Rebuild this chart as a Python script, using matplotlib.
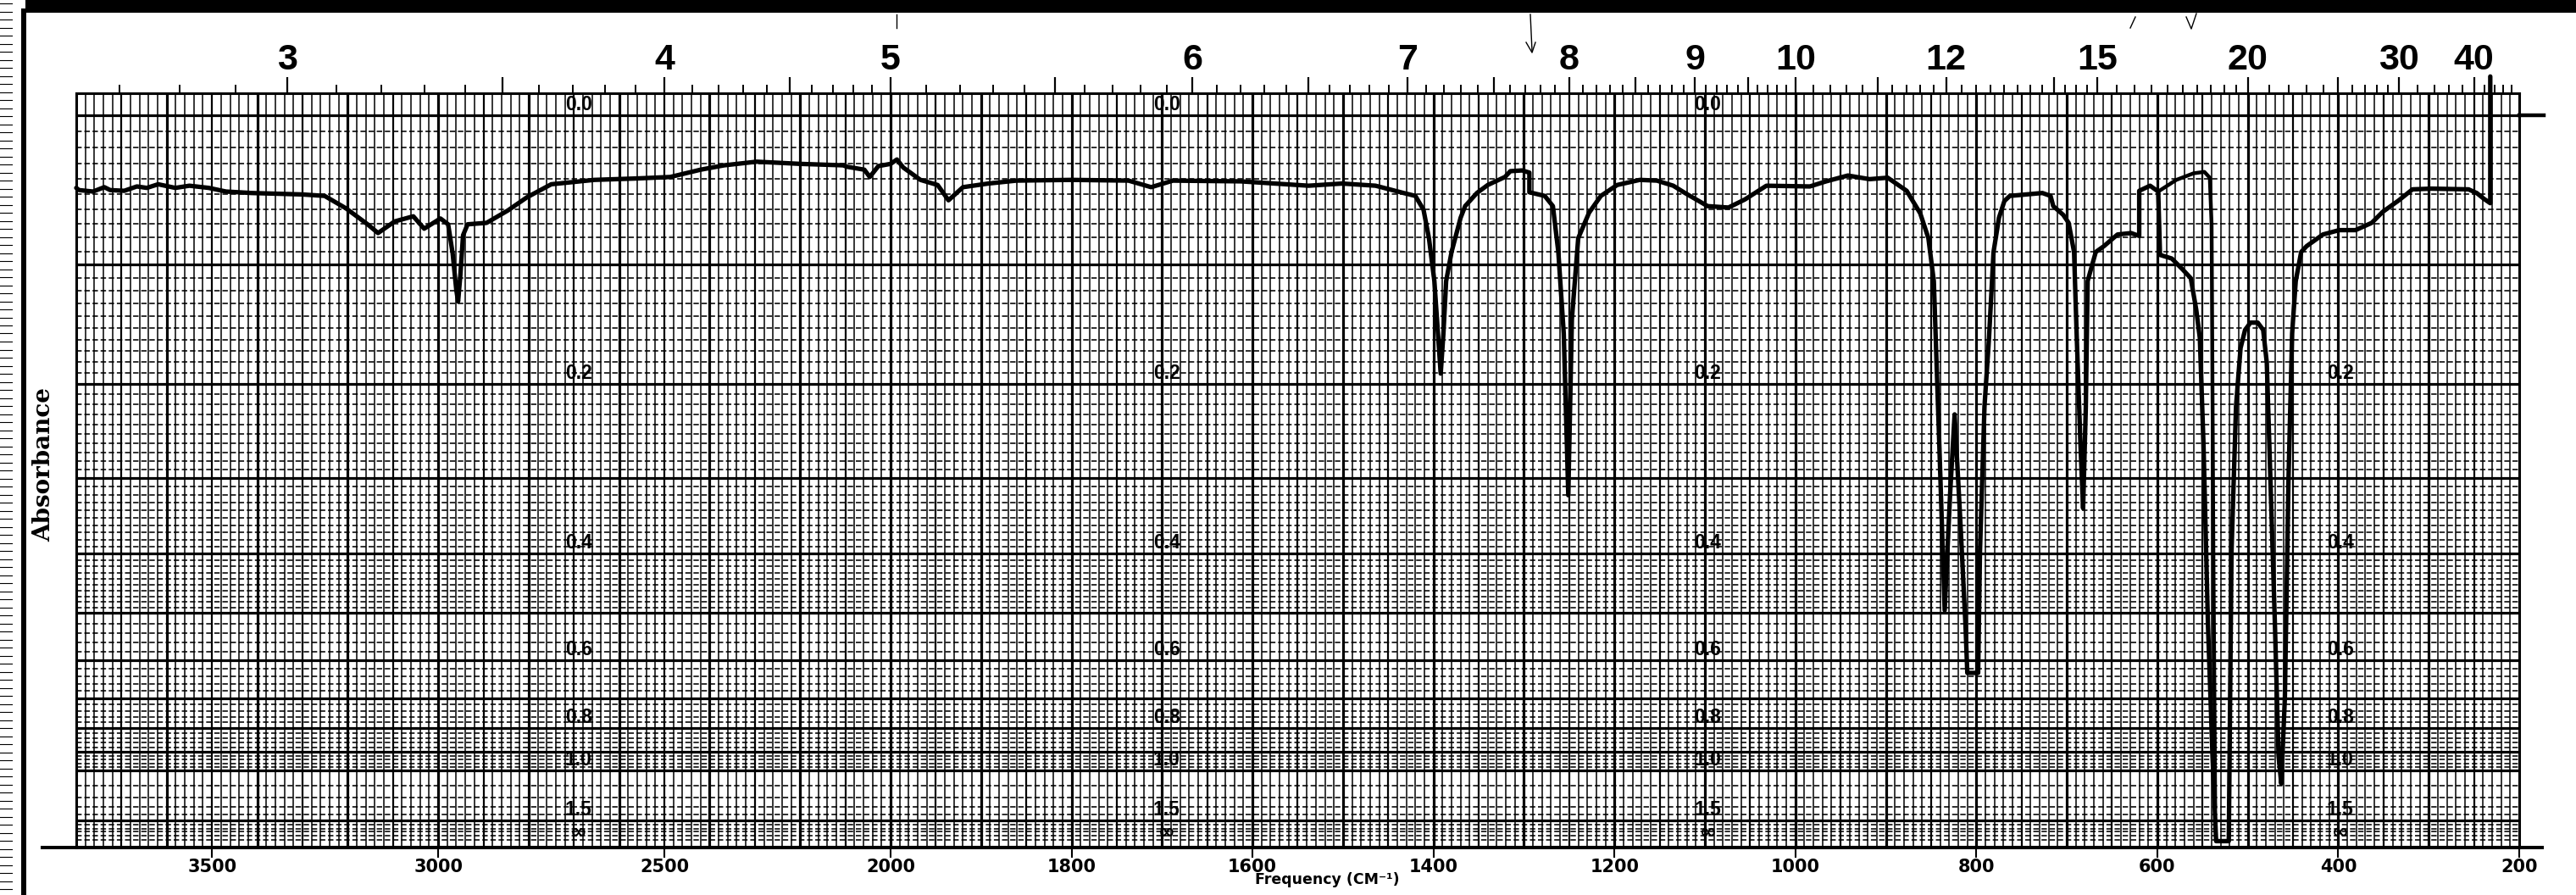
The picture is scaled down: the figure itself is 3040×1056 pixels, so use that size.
import numpy as np
import matplotlib
matplotlib.use("Agg")
import matplotlib.pyplot as plt
from matplotlib.lines import Line2D
from matplotlib.patches import Rectangle
from matplotlib.transforms import blended_transform_factory

# ---------------- data ----------------
wavenumber = [3800, 3794, 3763, 3738, 3725, 3694, 3666, 3644, 3619, 3581, 3550, 3507, 3469, 3413,
              3300, 3251, 3204, 3156, 3133, 3096, 3055, 3031, 2995, 2978, 2968, 2960, 2956, 2951,
              2945, 2935, 2893, 2846, 2804, 2750, 2655, 2560, 2487, 2420, 2368, 2296, 2200, 2105,
              2096, 2058, 2046, 2027, 2000, 1993, 1986, 1967, 1948, 1936, 1920, 1892, 1861, 1800,
              1737, 1712, 1688, 1613, 1538, 1501, 1464, 1433, 1420, 1411, 1405, 1399, 1395, 1392,
              1389, 1386, 1380, 1370, 1365, 1352, 1340, 1321, 1315, 1302, 1294, 1294, 1277, 1268,
              1262, 1256, 1251, 1247, 1240, 1228, 1215, 1197, 1172, 1153, 1135, 1122, 1097, 1074,
              1056, 1032, 984, 966, 942, 918, 898, 877, 862, 853, 847, 841, 835, 829, 824, 818,
              812, 810, 798, 796, 791, 786, 781, 775, 769, 763, 745, 727, 718, 715, 704, 698, 692,
              689, 685, 682, 679, 677, 668, 659, 644, 629, 620, 620, 608, 599, 597, 584, 572, 563,
              557, 553, 549, 544, 539, 535, 521, 518, 513, 508, 503, 497, 489, 483, 479, 475, 470,
              466, 463, 459, 455, 451, 447, 441, 435, 417, 399, 381, 363, 351, 333, 318, 297, 256,
              247, 239, 232, 232]
transmittance = [0.900, 0.897, 0.895, 0.901, 0.897, 0.896, 0.902, 0.900, 0.905, 0.900, 0.903, 0.900,
                 0.895, 0.893, 0.891, 0.889, 0.872, 0.850, 0.838, 0.854, 0.861, 0.844, 0.858, 0.850,
                 0.810, 0.760, 0.744, 0.780, 0.835, 0.850, 0.852, 0.869, 0.887, 0.905, 0.911, 0.913,
                 0.915, 0.925, 0.931, 0.936, 0.933, 0.931, 0.929, 0.925, 0.915, 0.930, 0.933, 0.939,
                 0.928, 0.911, 0.904, 0.883, 0.901, 0.906, 0.910, 0.911, 0.910, 0.901, 0.910, 0.909,
                 0.903, 0.906, 0.903, 0.893, 0.889, 0.870, 0.831, 0.772, 0.700, 0.645, 0.700, 0.772,
                 0.812, 0.859, 0.875, 0.893, 0.904, 0.915, 0.923, 0.924, 0.921, 0.894, 0.889, 0.875,
                 0.812, 0.700, 0.478, 0.720, 0.831, 0.866, 0.889, 0.904, 0.911, 0.910, 0.903, 0.893,
                 0.875, 0.873, 0.884, 0.903, 0.902, 0.909, 0.917, 0.912, 0.914, 0.896, 0.865, 0.831,
                 0.772, 0.550, 0.320, 0.480, 0.589, 0.450, 0.300, 0.234, 0.234, 0.400, 0.600, 0.694,
                 0.812, 0.859, 0.882, 0.889, 0.891, 0.893, 0.889, 0.875, 0.863, 0.852, 0.812, 0.694,
                 0.550, 0.460, 0.600, 0.772, 0.812, 0.820, 0.836, 0.838, 0.834, 0.896, 0.903, 0.895,
                 0.808, 0.803, 0.788, 0.776, 0.733, 0.694, 0.550, 0.300, 0.120, 0.003, 0.003, 0.400,
                 0.600, 0.680, 0.705, 0.715, 0.715, 0.705, 0.660, 0.500, 0.300, 0.120, 0.082, 0.200,
                 0.500, 0.700, 0.772, 0.812, 0.820, 0.836, 0.842, 0.842, 0.852, 0.867, 0.883, 0.898,
                 0.899, 0.898, 0.893, 0.885, 0.879, 1.053]

# second (overlapping) pen pass near 600-535 cm-1
retrace_wavenumber = [599, 579, 560, 548, 542, 540, 538, 536]
retrace_transmittance = [0.895, 0.911, 0.920, 0.922, 0.914, 0.850, 0.400, 0.050]

freq_ticks = [3500, 3000, 2500, 2000, 1800, 1600, 1400, 1200, 1000, 800, 600, 400, 200]
wavelength_labels = [3, 4, 5, 6, 7, 8, 9, 10, 12, 15, 20, 30, 40]
wavelength_half = [3.5, 4.5, 5.5, 6.5, 7.5, 8.5, 9.5, 11, 14, 25]
absorbance_text = ["0.0", "0.2", "0.4", "0.6", "0.8", "1.0", "1.5", "\u221e"]
absorbance_values = [0.0, 0.2, 0.4, 0.6, 0.8, 1.0, 1.5, np.inf]
label_columns = [2690, 1695, 1097, 398]

# ---------------- scale: chart paper halves its cm-1 scale above 2000 ----------------
def fwd(nu):
    nu = np.asarray(nu, dtype=float)
    return np.where(nu <= 2000, nu, 2000 + (nu - 2000) / 2.0)

def inv(g):
    g = np.asarray(g, dtype=float)
    return np.where(g <= 2000, g, 2000 + (g - 2000) * 2.0)

def a2t(a):
    return 10.0 ** (-np.asarray(a, dtype=float))

W, H = 3040, 1056
fig = plt.figure(figsize=(W / 100, H / 100), dpi=100)
fig.patch.set_facecolor("white")

ax_left, ax_right, ax_top, ax_bot = 90, 2973, 110, 1000
ax = fig.add_axes([ax_left / W, 1 - ax_bot / H, (ax_right - ax_left) / W, (ax_bot - ax_top) / H])
ax.set_xscale("function", functions=(fwd, inv))
ax.set_xlim(3800, 200)
ax.set_ylim(-0.0058, 1.030)

xt = ax.get_xaxis_transform()
yt = ax.get_yaxis_transform()

# ---- vertical grid ----
hi_thin = [v for v in range(3780, 2000, -20)]
lo_thin = [v for v in range(1990, 200, -10)]
thin_v = [v for v in hi_thin if v % 100 != 0] + [v for v in lo_thin if v % 50 != 0]
med_v = [v for v in range(3700, 2000, -200)] + [v for v in range(1950, 200, -100)]
thick_v = [v for v in range(3600, 2000, -200)] + [v for v in range(2000, 200, -100)]
ax.vlines(thin_v, 0, 1, transform=xt, color="black", lw=1.1, zorder=1)
ax.vlines(med_v, 0, 1, transform=xt, color="black", lw=1.6, zorder=1)
ax.vlines(thick_v, 0, 1, transform=xt, color="black", lw=2.3, zorder=1)

# ---- horizontal grid (absorbance rulings on a linear transmittance scale) ----
minor_a = [a / 100 for a in range(1, 50) if a % 10 != 0] + \
          [a / 100 for a in range(52, 100, 2) if a % 10 != 0] + \
          [1.1, 1.2, 1.3, 1.4, 1.6, 1.7, 1.8, 2.0, 2.3]
major_a = [0.0, 0.1, 0.2, 0.3, 0.4, 0.5, 0.6, 0.7, 0.8, 0.9, 1.0, 1.5]
ax.hlines(a2t(minor_a), 0, 1, transform=yt, color="black", lw=1.15,
          linestyles=[(0, (4, 2.0))], zorder=1)
ax.hlines(a2t(major_a), 0, 1, transform=yt, color="black", lw=2.3, zorder=1)

# ---- spectrum trace ----
ax.plot(wavenumber, transmittance, color="black", lw=3.8, solid_joinstyle="round",
        solid_capstyle="round", zorder=5, clip_on=False)
ax.plot(retrace_wavenumber, retrace_transmittance, color="black", lw=3.2,
        solid_joinstyle="round", zorder=5)

# ---- absorbance labels printed on the paper ----
for i, col in enumerate(label_columns):
    for txt, a in zip(absorbance_text, absorbance_values):
        if i == 3 and txt == "0.0":
            continue
        t = 0.0 if np.isinf(a) else float(a2t(a))
        if txt == "\u221e":
            fam, fs = ["DejaVu Sans"], 17
        else:
            fam, fs = ["Liberation Sans Narrow", "Liberation Sans", "DejaVu Sans"], 16.5
        ax.annotate(txt, (col, t), xytext=(0, 0.6), textcoords="offset points",
                    ha="center", va="bottom", fontsize=fs, fontweight="bold",
                    family=fam, zorder=6, color="black")

# ---- spines and bottom ticks ----
for s in ["left", "right", "top"]:
    ax.spines[s].set_linewidth(2.2)
ax.spines["bottom"].set_linewidth(2.9)
ax.set_yticks([])
ax.set_xticks(freq_ticks, labels=[str(v) for v in freq_ticks], fontsize=15,
              fontweight="bold", family="DejaVu Sans")
ax.xaxis.set_minor_locator(matplotlib.ticker.NullLocator())
ax.tick_params(axis="x", which="major", direction="out", length=8.6, width=1.5, pad=1)

# ---- top wavelength (micron) axis ----
ax2 = ax.twiny()
ax2.set_xscale("function", functions=(fwd, inv))
ax2.set_xlim(3800, 200)
for s in ax2.spines.values():
    s.set_visible(False)
major_lam = list(wavelength_labels) + list(wavelength_half)
major_lab = [str(v) for v in wavelength_labels] + [""] * len(wavelength_half)
ax2.set_xticks([10000.0 / l for l in major_lam], labels=major_lab, fontsize=31,
               fontweight="bold", family=["Liberation Sans Narrow", "Liberation Sans"])
minor_lam = list(np.round(np.arange(2.7, 10.0, 0.1), 2)) + list(np.arange(10.2, 12.0, 0.2)) + \
            list(np.arange(12.25, 15.0, 0.25)) + list(np.arange(15.5, 20.0, 0.5)) + \
            list(np.arange(21, 30, 1.0)) + list(np.arange(32, 40, 2.0)) + list(np.arange(42, 50, 2.0))
minor_lam = [l for l in minor_lam if all(abs(l - m) > 1e-6 for m in major_lam)]
ax2.set_xticks([10000.0 / l for l in minor_lam], minor=True)
ax2.tick_params(axis="x", which="major", direction="out", length=13.5, width=1.6, pad=0)
ax2.tick_params(axis="x", which="minor", direction="out", length=7.2, width=1.4)

# ---- axis titles ----
fig.text(1566 / W, 1 - 1038 / H, "Frequency (CM\u207b\u00b9)", ha="center", va="center",
         fontsize=12.5, fontweight="bold", family="DejaVu Sans")
fig.text(52 / W, 1 - 548 / H, "Absorbance", rotation=90, ha="center", va="center",
         fontsize=20, fontweight="bold", family=["DejaVu Serif", "DejaVu Sans"])

# ---- paper decorations: extended rulings, borders, edge perforation ----
bt = blended_transform_factory(ax.transAxes, ax.transData)
ax.plot([1.0, 1.0 + 29 / 2883], [1.0, 1.0], transform=bt, color="black", lw=3.2, clip_on=False)
fig.add_artist(Line2D([50 / W, 3000 / W], [1 - 1000 / H] * 2, color="black", lw=2.9))
fig.add_artist(Rectangle((30 / W, 1 - 15 / H), 1 - 30 / W, 15 / H, transform=fig.transFigure,
                         color="black", lw=0))
fig.add_artist(Rectangle((25 / W, 0), 6 / W, 1 - 10 / H, transform=fig.transFigure,
                         color="black", lw=0))
for yy in np.arange(4, H, 9.5):
    fig.add_artist(Line2D([0, 14 / W], [1 - yy / H] * 2, color="black", lw=0.8))

# faint pencil marks at the top edge of the paper
pencil = dict(color="black", lw=1.0)
fig.add_artist(Line2D([1058 / W, 1058 / W], [1 - 17 / H, 1 - 33 / H], **pencil))
fig.add_artist(Line2D([1806 / W, 1808 / W], [1 - 17 / H, 1 - 60 / H], **pencil))
fig.add_artist(Line2D([1801 / W, 1808 / W, 1812 / W], [1 - 50 / H, 1 - 62 / H, 1 - 50 / H], **pencil))
fig.add_artist(Line2D([2514 / W, 2520 / W], [1 - 33 / H, 1 - 20 / H], **pencil))
fig.add_artist(Line2D([2580 / W, 2586 / W, 2592 / W], [1 - 20 / H, 1 - 34 / H, 1 - 16 / H], **pencil))

fig.savefig("out.png", dpi=100)
